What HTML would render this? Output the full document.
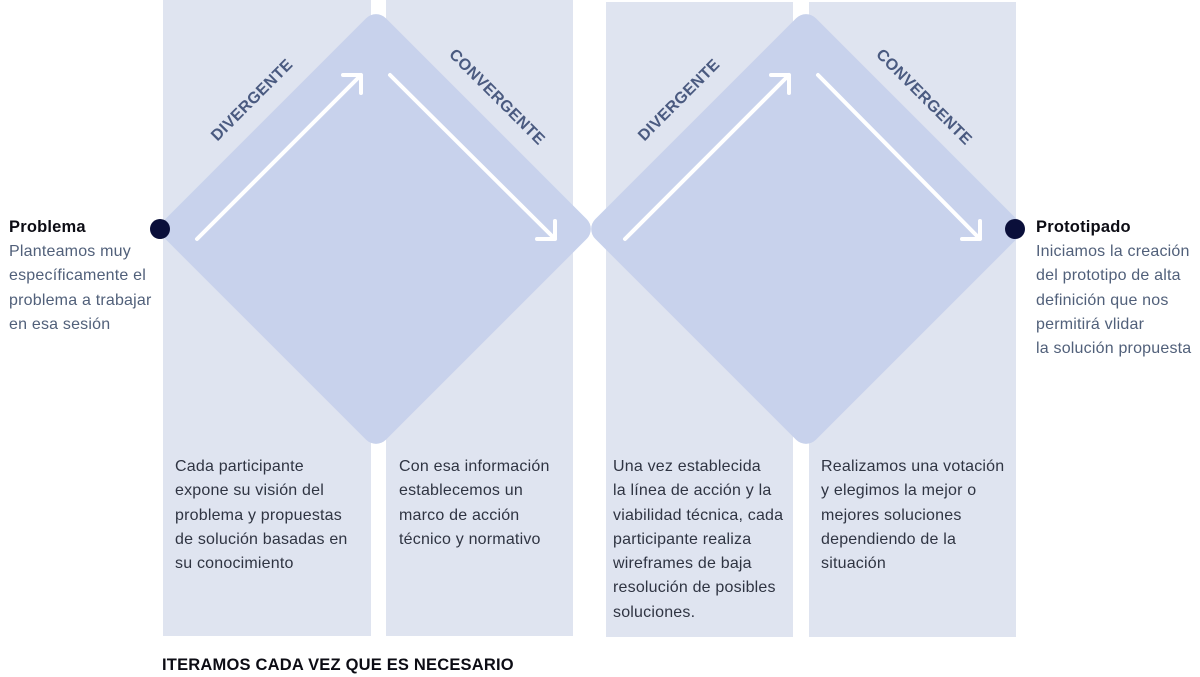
<!DOCTYPE html>
<html><head><meta charset="utf-8"><style>
body{margin:0;width:1200px;height:675px;background:#fff;position:relative;overflow:hidden;font-family:"Liberation Sans",sans-serif}
.col{position:absolute;background:#dfe4f0}
.t{position:absolute;font-size:16px;line-height:24.3px;color:#2f3442;letter-spacing:0.2px;white-space:nowrap}
.g{color:#51607a}
.b{font-weight:bold;color:#0c0c14;font-size:16.5px}
</style></head><body>
<div class="col" style="left:163px;top:0;width:208px;height:636px"></div>
<div class="col" style="left:386px;top:0;width:187px;height:636px"></div>
<div class="col" style="left:606px;top:2px;width:187px;height:635px"></div>
<div class="col" style="left:809px;top:2px;width:207px;height:635px"></div>
<svg width="1200" height="675" style="position:absolute;left:0;top:0">
<rect x="-156" y="-156" width="312" height="312" rx="14" fill="#c8d2ec" transform="translate(376,229) rotate(45)"/>
<rect x="-156" y="-156" width="312" height="312" rx="14" fill="#c8d2ec" transform="translate(806,229) rotate(45)"/>
<g stroke="#fff" stroke-width="4" fill="none" stroke-linecap="round" stroke-linejoin="round">
<path d="M197 239 L361 75 M343 75 H361 V93"/>
<path d="M390 75 L555 239 M555 221 V239 H537"/>
<path d="M625 239 L789 75 M771 75 H789 V93"/>
<path d="M818 75 L980 239 M980 221 V239 H962"/>
</g>
<g font-family="Liberation Sans" font-size="16" fill="#4a5a80" font-weight="bold" text-anchor="middle" letter-spacing="0.4">
<text transform="translate(252,100) rotate(-45)" dy="5">DIVERGENTE</text>
<text transform="translate(497,97) rotate(45)" dy="5">CONVERGENTE</text>
<text transform="translate(679,100) rotate(-45)" dy="5">DIVERGENTE</text>
<text transform="translate(924,97) rotate(45)" dy="5">CONVERGENTE</text>
</g>
<circle cx="160" cy="229" r="10" fill="#0a0f3a"/>
<circle cx="1015" cy="229" r="10" fill="#0a0f3a"/>
</svg>
<div class="t b" style="left:9px;top:215px">Problema</div>
<div class="t g" style="left:9px;top:240px">Planteamos muy<br>específicamente el<br>problema a trabajar<br>en esa sesión</div>
<div class="t b" style="left:1036px;top:215px">Prototipado</div>
<div class="t g" style="left:1036px;top:240px">Iniciamos la creación<br>del prototipo de alta<br>definición que nos<br>permitirá vlidar<br>la solución propuesta</div>
<div class="t" style="left:175px;top:455px">Cada participante<br>expone su visión del<br>problema y propuestas<br>de solución basadas en<br>su conocimiento</div>
<div class="t" style="left:399px;top:455px">Con esa información<br>establecemos un<br>marco de acción<br>técnico y normativo</div>
<div class="t" style="left:613px;top:455px">Una vez establecida<br>la línea de acción y la<br>viabilidad técnica, cada<br>participante realiza<br>wireframes de baja<br>resolución de posibles<br>soluciones.</div>
<div class="t" style="left:821px;top:455px">Realizamos una votación<br>y elegimos la mejor o<br>mejores soluciones<br>dependiendo de la<br>situación</div>
<div class="t" style="left:162px;top:653px;font-weight:bold;color:#0c0c14;font-size:16.5px">ITERAMOS CADA VEZ QUE ES NECESARIO</div>
</body></html>
